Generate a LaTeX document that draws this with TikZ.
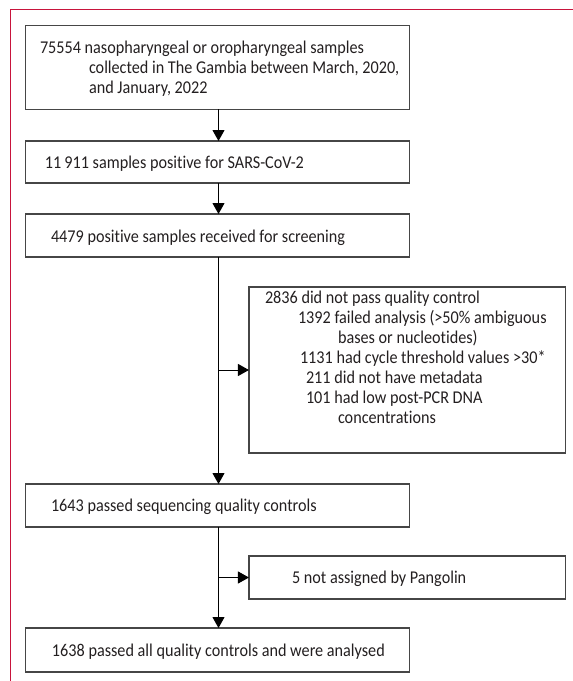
\documentclass[tikz,border=0pt]{standalone}
\usepackage{fontspec}
\setmainfont{Carlito}[FakeStretch=0.9,Ligatures=NoCommon]
\usetikzlibrary{arrows.meta}
\definecolor{framered}{RGB}{200,20,60}
\definecolor{boxline}{RGB}{70,70,70}
\definecolor{txt}{RGB}{35,31,32}
\begin{document}
\begin{tikzpicture}[x=1pt,y=-1pt,
  stepbox/.style={draw=boxline,line width=1.1pt,inner sep=0pt,outer sep=0pt,rectangle},
  lbl/.style={anchor=base west,inner sep=0pt,outer sep=0pt,text=txt,font=\fontsize{18}{20}\selectfont},
  arr/.style={draw=black,line width=1pt,-{Triangle[length=11pt,width=12pt]}}]
\useasboundingbox (0,0) rectangle (573,681);
% frame
\draw[framered,line width=1pt] (573,9) -- (10,9) -- (10,681);
% boxes
\node[stepbox,minimum width=383.5pt,minimum height=83.5pt] (b1) at (217.4,67.5) {};
\node[stepbox,minimum width=383.5pt,minimum height=42pt] (b2) at (217.4,162) {};
\node[stepbox,minimum width=383.5pt,minimum height=43pt] (b3) at (217.4,235.5) {};
\node[stepbox,minimum width=316.5pt,minimum height=166pt] (ex) at (407.2,370) {};
\node[stepbox,minimum width=383.5pt,minimum height=43pt] (b4) at (217.4,505.5) {};
\node[stepbox,minimum width=316.5pt,minimum height=43pt] (pg) at (407.2,577.5) {};
\node[stepbox,minimum width=383.5pt,minimum height=44pt] (b6) at (217.4,650) {};
% texts
\node[lbl] (t1a) at (40,53.5) {75554 nasopharyngeal or oropharyngeal samples};
\node[lbl] (t1b) at (89,73.5) {collected in The Gambia between March, 2020,};
\node[lbl] (t1c) at (89,93.5) {and January, 2022};
\node[lbl] (t2) at (45,168) {11\,911 samples positive for SARS-CoV-2};
\node[lbl] (t3) at (51,242) {4479 positive samples received for screening};
\node[lbl] (e1) at (265,303) {2836 did not pass quality control};
\node[lbl] (e2) at (298,323) {1392 failed analysis (>50\% ambiguous};
\node[lbl] (e3) at (338,343) {bases or nucleotides)};
\node[lbl] (e4) at (300,363) {1131 had cycle threshold values >30*};
\node[lbl] (e5) at (306,383) {211 did not have metadata};
\node[lbl] (e6) at (306,403) {101 had low post-PCR DNA};
\node[lbl] (e7) at (338,423) {concentrations};
\node[lbl] (t4) at (51,511.5) {1643 passed sequencing quality controls};
\node[lbl] (tp) at (292,583.5) {5 not assigned by Pangolin};
\node[lbl] (t6) at (52,656) {1638 passed all quality controls and were analysed};
% connectors
\coordinate (spine) at (218.5,0);
\draw[arr] (b1.south -| spine) -- (b2.north -| spine);
\draw[arr] (b2.south -| spine) -- (b3.north -| spine);
\draw[arr] (b3.south -| spine) -- (b4.north -| spine);
\draw[arr] (ex.west -| spine) -- (ex.west);
\draw[arr] (b4.south -| spine) -- (b6.north -| spine);
\draw[arr] (pg.west -| spine) -- (pg.west);
\end{tikzpicture}
\end{document}
